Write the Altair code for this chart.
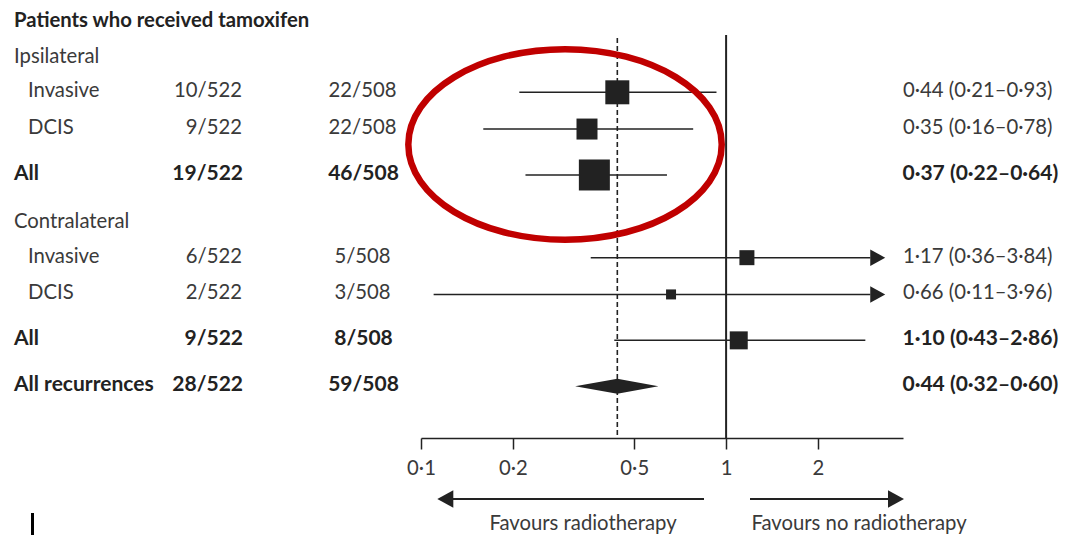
import altair as alt
import pandas as pd

# ---------------- data ----------------
row_labels = ["Patients who received tamoxifen", "Ipsilateral", "Invasive", "DCIS", "All",
              "Contralateral", "Invasive", "DCIS", "All", "All recurrences"]
row_kind = ["title", "group", "sub", "sub", "total", "group", "sub", "sub", "total", "overall"]
rt_events = ["", "", "10/522", "9/522", "19/522", "", "6/522", "2/522", "9/522", "28/522"]
nort_events = ["", "", "22/508", "22/508", "46/508", "", "5/508", "3/508", "8/508", "59/508"]
hr = [None, None, 0.44, 0.35, 0.37, None, 1.17, 0.66, 1.10, 0.44]
ci_low = [None, None, 0.21, 0.16, 0.22, None, 0.36, 0.11, 0.43, 0.32]
ci_high = [None, None, 0.93, 0.78, 0.64, None, 3.84, 3.96, 2.86, 0.60]
box_side = [None, None, 24, 21, 31, None, 15, 10, 18, None]   # weight boxes as drawn
tick_values = [0.1, 0.2, 0.5, 1, 2]
favour_labels = ["Favours radiotherapy", "Favours no radiotherapy"]
highlight_x = [0.2965]      # centre of red annotation ellipse (HR scale)
highlight_pos = [3.42]      # centre of red annotation ellipse (row scale)

# ---------------- styling constants ----------------
FONT = "Lato"
FS = 20.3
FSB = 21.0
FST = 20.3
INK = "#222222"
GREY = "#3a3a3a"
RED = "#c00000"
CLIP = 2.97          # CI lines truncated here ...
ARROW_AT = 3.14      # ... and finished with an arrow head
DIAMOND_HALF = 0.204  # in row units

summary = {"total", "overall"}
pos = []
p = 0.0
for i, k in enumerate(row_kind):
    if i > 0:
        p += 1 + (0.25 if (k in summary or row_kind[i - 1] in summary) else 0)
    pos.append(p)


def fmt(v):
    return f"{v:.2f}".replace(".", "·")


rows = []
for i in range(len(row_labels)):
    h = hr[i]
    rows.append({
        "label": row_labels[i], "kind": row_kind[i], "rt": rt_events[i], "nort": nort_events[i],
        "hr": h, "lo": ci_low[i], "hi": ci_high[i],
        "line_hi": None if h is None else min(ci_high[i], CLIP),
        "arrow": None if h is None or ci_high[i] <= CLIP else ARROW_AT,
        "area": None if box_side[i] is None else box_side[i] ** 2,
        "hrtext": "" if h is None else f"{fmt(h)} ({fmt(ci_low[i])}–{fmt(ci_high[i])})",
        "pos": pos[i],
    })
df = pd.DataFrame(rows)

ov = df[df.kind == "overall"].iloc[0]
diamond = pd.DataFrame({
    "x": [ov.lo, ov.hr, ov.hi],
    "y": [ov.pos, ov.pos - DIAMOND_HALF, ov.pos],
    "y2": [ov.pos, ov.pos + DIAMOND_HALF, ov.pos],
})
ref = pd.DataFrame({"x": [1.0, float(ov.hr)], "kind": ["null", "overall"]})
ann = pd.DataFrame({"x": highlight_x, "pos": highlight_pos})
fav = pd.DataFrame({"label": favour_labels, "cx": [575, 851]})

xscale = alt.Scale(type="log", domain=[0.1, 3.8], range=[413, 895], nice=False)
yscale = alt.Scale(domain=[0, 10], range=[10.8, 378.3], nice=False, zero=False)
xaxis = alt.Axis(values=tick_values, labelExpr="replace(format(datum.value, ''), '.', '·')",
                 title=None, grid=False, domainColor=INK, domainWidth=1.5, tickColor=INK,
                 tickWidth=1.5, tickSize=11, labelPadding=9, labelFont=FONT, labelFontSize=FS,
                 labelColor=GREY, labelFlush=False, labelOverlap=False)


def X(f):
    return alt.X(f, scale=xscale, axis=xaxis)


Y = alt.Y("pos:Q", scale=yscale, axis=None)

base = alt.Chart(df)

ci = base.transform_filter("datum.hr != null && datum.kind != 'overall'").mark_rule(
    color=INK, strokeWidth=1.5).encode(x=X("lo:Q"), x2="line_hi:Q", y=Y)
arrows = base.transform_filter("datum.arrow != null").mark_point(
    shape="M-1,-1.1L1,0L-1,1.1Z", filled=True, size=225, color=INK, opacity=1, strokeWidth=0
).encode(x=X("arrow:Q"), y=Y)
boxes = base.transform_filter("datum.area != null").mark_point(
    shape="square", filled=True, color=INK, opacity=1, strokeWidth=0
).encode(x=X("hr:Q"), y=Y, size=alt.Size("area:Q", scale=None))

dia = alt.Chart(diamond).mark_area(color=INK, orient="vertical", opacity=1).encode(
    x=X("x:Q"), y=alt.Y("y:Q", scale=yscale, axis=None), y2="y2:Q")

line1 = alt.Chart(ref).transform_filter("datum.kind == 'null'").mark_rule(
    color=INK, strokeWidth=2).encode(x=X("x:Q"), y=alt.value(27), y2=alt.value(430))
line_ov = alt.Chart(ref).transform_filter("datum.kind == 'overall'").mark_rule(
    color=INK, strokeWidth=1.6, strokeDash=[5, 3]).encode(x=X("x:Q"), y=alt.value(30), y2=alt.value(430))

ELLIPSE = ("M-1,0 C-1,-0.3358 -0.5523,-0.608 0,-0.608 C0.5523,-0.608 1,-0.3358 1,0 "
           "C1,0.3358 0.5523,0.608 0,0.608 C-0.5523,0.608 -1,0.3358 -1,0 Z")
ellipse = alt.Chart(ann).mark_point(shape=ELLIPSE, filled=False, size=313.4 ** 2, stroke=RED,
                                    strokeWidth=6.5, opacity=1).encode(
    x=X("x:Q"), y=Y)


def txt(field, x, align, kinds, bold, dy, color, size=None):
    if size is None:
        size = FSB if bold else FS
    return base.transform_filter(alt.FieldOneOfPredicate(field="kind", oneOf=kinds)).mark_text(
        align=align, baseline="alphabetic", dy=dy, font=FONT, fontSize=size,
        fontWeight="bold" if bold else "normal", color=color
    ).encode(x=alt.value(x), y=Y, text=f"{field}:N")


texts = [
    txt("label", 6, "left", ["title"], True, 8, INK, FST),
    txt("label", 6, "left", ["group"], False, 7, GREY),
    txt("label", 20, "left", ["sub"], False, 5, GREY),
    txt("label", 6, "left", ["total", "overall"], True, 5, INK),
    txt("rt", 234, "right", ["sub"], False, 5, GREY),
    txt("rt", 235, "right", ["total", "overall"], True, 5, INK),
    txt("nort", 354.5, "center", ["sub"], False, 5, GREY),
    txt("nort", 355.5, "center", ["total", "overall"], True, 5, INK),
    txt("hrtext", 895, "left", ["sub"], False, 5, GREY),
    txt("hrtext", 894.5, "left", ["total", "overall"], True, 5, INK),
]

one = alt.Chart(pd.DataFrame({"a": [0]}))
fav_left_line = one.mark_rule(color=INK, strokeWidth=2).encode(
    x=alt.value(444), x2=alt.value(696), y=alt.value(491))
fav_right_line = one.mark_rule(color=INK, strokeWidth=2).encode(
    x=alt.value(742), x2=alt.value(882), y=alt.value(491))
fav_left_head = one.mark_point(shape="M1,-1.1L-1,0L1,1.1Z", filled=True, size=256, color=INK,
                               opacity=1, strokeWidth=0).encode(x=alt.value(437.3), y=alt.value(491))
fav_right_head = one.mark_point(shape="M-1,-1.1L1,0L-1,1.1Z", filled=True, size=256, color=INK,
                                opacity=1, strokeWidth=0).encode(x=alt.value(888), y=alt.value(491))
fav_text = alt.Chart(fav).mark_text(font=FONT, fontSize=FS, color=GREY, align="center",
                                    baseline="alphabetic").encode(
    x=alt.X("cx:Q", scale=None), y=alt.value(522), text="label:N")
bar = one.mark_rule(color="#000000", strokeWidth=3).encode(
    x=alt.value(24.5), y=alt.value(505), y2=alt.value(530))

chart = alt.layer(
    line_ov, line1, ci, arrows, boxes, dia, ellipse, *texts,
    fav_left_line, fav_right_line, fav_left_head, fav_right_head, fav_text, bar
).properties(
    width=1052, height=430,
    background="white",
    autosize=alt.AutoSizeParams(type="none"),
    padding={"left": 0, "top": 0, "right": 0, "bottom": 97},
).configure_view(stroke=None)

chart.save("out.html", embed_options={"renderer": "svg", "actions": False})
